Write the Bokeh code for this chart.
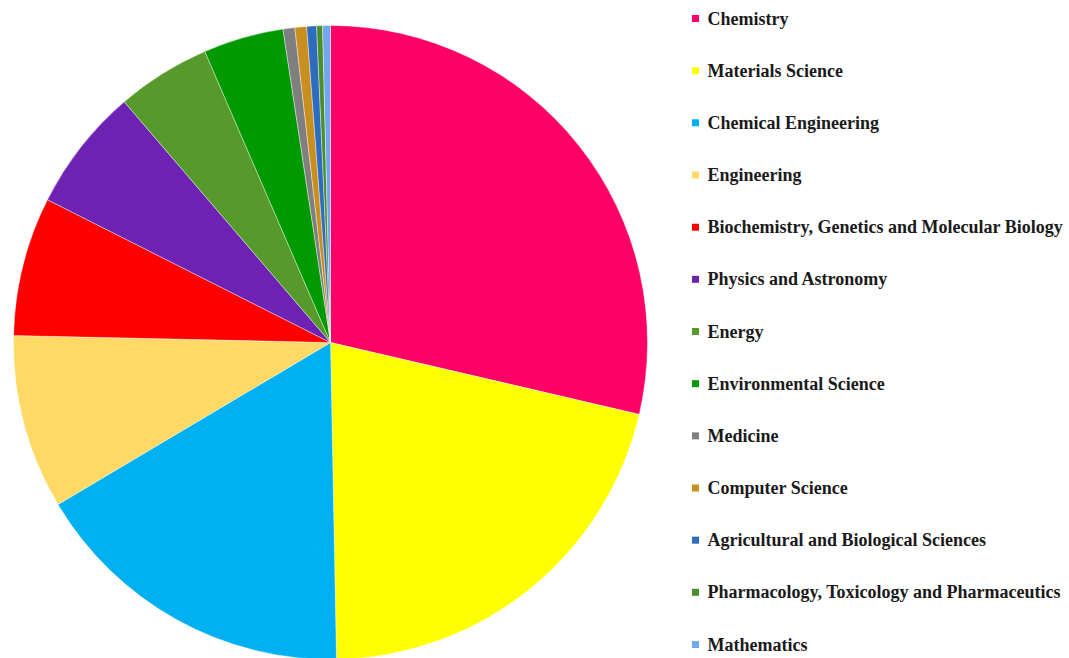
import numpy as np
from bokeh.plotting import figure
from bokeh.models import Range1d, ColumnDataSource
from bokeh.core.properties import value
from bokeh.embed import file_html
from bokeh.resources import INLINE

categories = ["Chemistry", "Materials Science", "Chemical Engineering", "Engineering",
              "Biochemistry, Genetics and Molecular Biology", "Physics and Astronomy",
              "Energy", "Environmental Science", "Medicine", "Computer Science",
              "Agricultural and Biological Sciences",
              "Pharmacology, Toxicology and Pharmaceutics", "Mathematics"]
shares = [28.7, 21.1, 16.8, 8.9, 7.1, 6.3, 4.8, 4.1, 0.6, 0.6, 0.5, 0.3, 0.4]
colors = ["#FF0066", "#FFFF00", "#00B0F0", "#FFD966", "#FF0000", "#6E22B4",
          "#559A2A", "#009A00", "#7F7F7F", "#C98F1E", "#2E6CC0", "#4A8F2A", "#6FA8EC"]

W, H = 1069, 658
p = figure(width=W, height=H, output_backend="svg", toolbar_location=None,
           x_range=Range1d(0, W), y_range=Range1d(-H, 0),
           min_border=0, outline_line_color=None)
p.axis.visible = False
p.grid.visible = False

vals = np.array(shares, dtype=float)
frac = vals / vals.sum()
cum = np.concatenate([[0], np.cumsum(frac)])
start = np.pi / 2 - cum[1:] * 2 * np.pi
end = np.pi / 2 - cum[:-1] * 2 * np.pi

src = ColumnDataSource(dict(start=start, end=end, color=colors, name=categories))
p.wedge(x=330, y=-342, radius=317, start_angle="start", end_angle="end",
        fill_color="color", line_color="white", line_width=0.4, source=src)

n = len(categories)
ly = [-(18 + i * (644 - 18) / (n - 1)) for i in range(n)]
lsrc = ColumnDataSource(dict(y=ly, color=colors, name=categories))
p.scatter(x=695, y="y", marker="square", size=7, fill_color="color",
          line_color=None, source=lsrc)
p.text(x=707, y="y", text="name", source=lsrc, text_font=value("Liberation Serif"),
       text_font_size="18px", text_font_style="bold", text_baseline="middle",
       text_align="left", text_color="#1a1a1a")

open("out.html", "w").write(file_html(p, INLINE))
